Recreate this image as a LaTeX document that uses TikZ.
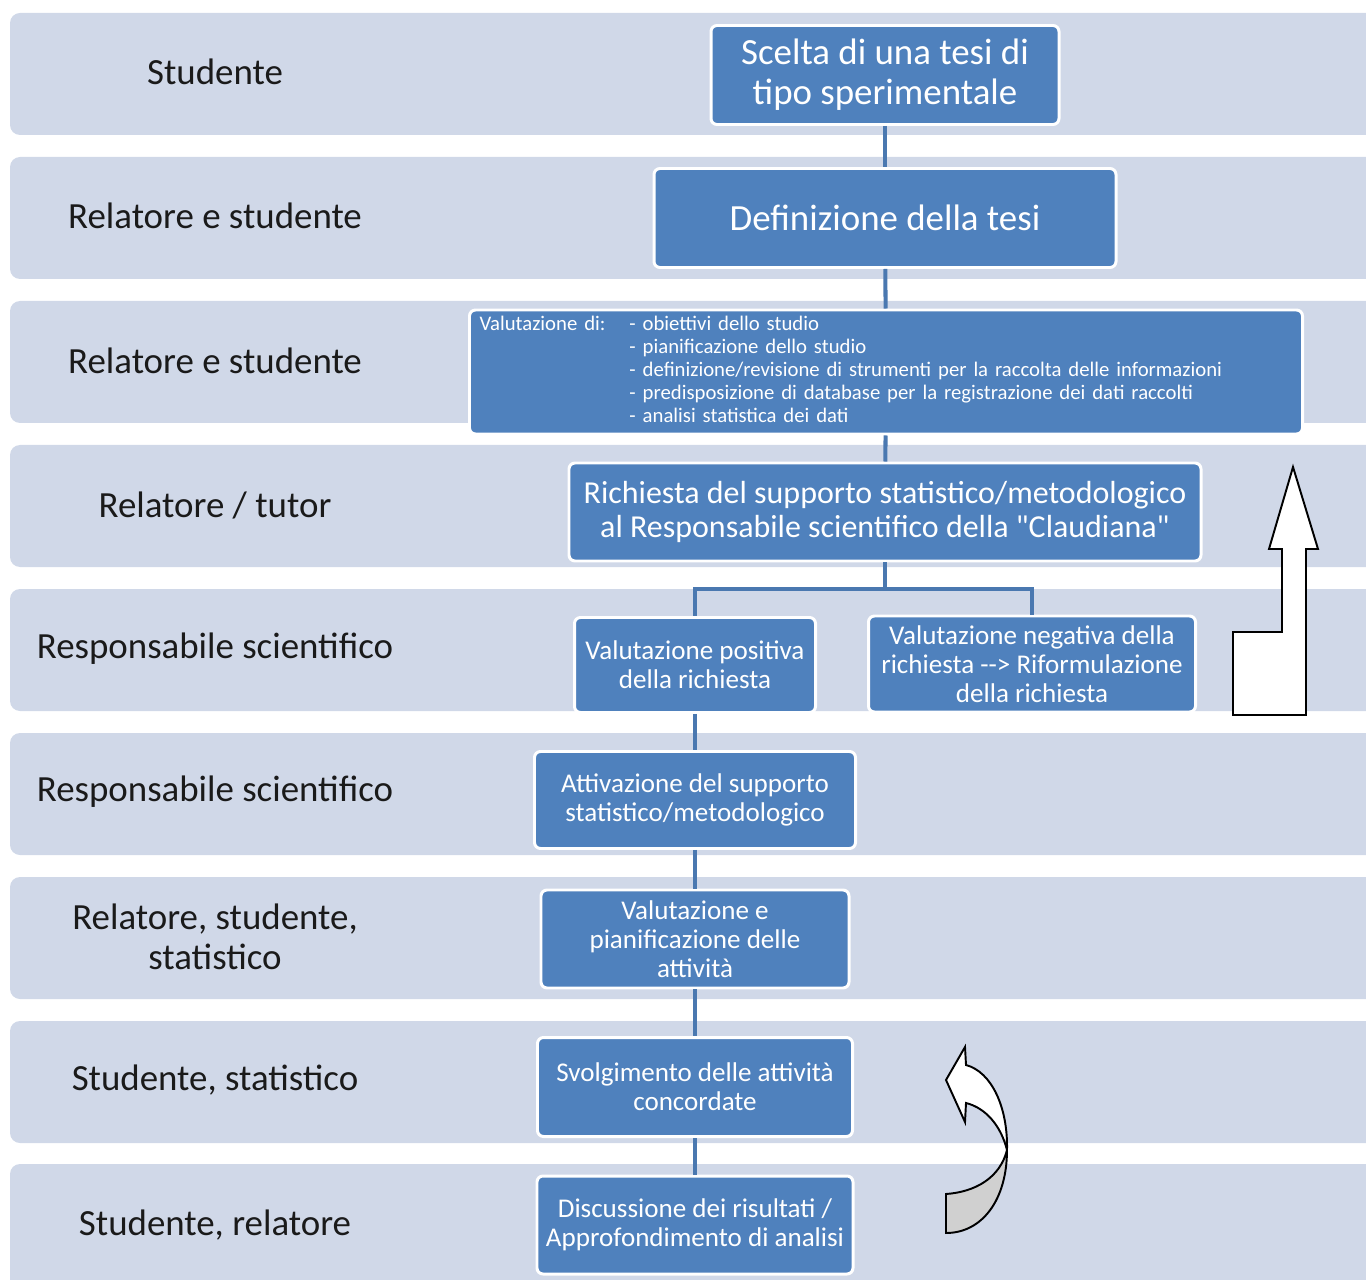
\documentclass[tikz,border=0pt]{standalone}
\usepackage{fontspec}
\setmainfont[Ligatures=TeXOff]{Carlito}
\usepackage{tikz}
\definecolor{bandgray}{HTML}{D0D8E8}
\definecolor{boxblue}{HTML}{4F81BD}
\definecolor{lineblue}{HTML}{4A78B0}
\definecolor{rolegray}{HTML}{1A1A1A}
\definecolor{backgray}{HTML}{D0D0D0}
\newcommand{\px}{0.02cm}

\begin{document}
\begin{tikzpicture}[x=\px, y=-\px,
    band/.style={fill=bandgray, rounded corners=0.2cm},
    role/.style={text=rolegray, align=center, font=\fontsize{21}{22.7}\selectfont},
    box/.style={draw=white, line width=1.7pt, fill=boxblue, rounded corners=0.12cm, text=white, align=center, inner sep=2pt},
    big/.style={box, font=\fontsize{21}{22.7}\selectfont},
    mid/.style={box, font=\fontsize{18.2}{19.3}\selectfont},
    small/.style={box, font=\fontsize{15.4}{16.4}\selectfont},
    conn/.style={draw=lineblue, line width=2.3pt},
    blockarrow/.style={draw=black, line width=1.1pt, fill=white, line join=miter}]
    \useasboundingbox (0,0) rectangle (1366,1280);
    \clip (0,0) rectangle (1366,1280);

    % Bands
    \fill[band] (10,13) rectangle (1400,135);
    \fill[band] (10,157) rectangle (1400,279);
    \fill[band] (10,301) rectangle (1400,423);
    \fill[band] (10,445) rectangle (1400,567);
    \fill[band] (10,589) rectangle (1400,711);
    \fill[band] (10,733) rectangle (1400,855);
    \fill[band] (10,877) rectangle (1400,999);
    \fill[band] (10,1021) rectangle (1400,1143);
    \fill[band] (10,1164) rectangle (1400,1300);

    % Roles
    \node[role] (role-1) at (215,72) {Studente};
    \node[role] (role-2) at (215,216) {Relatore e studente};
    \node[role] (role-3) at (215,361) {Relatore e studente};
    \node[role] (role-4) at (215,505) {Relatore / tutor};
    \node[role] (role-5) at (215,649) {Responsabile scientifico};
    \node[role] (role-6) at (215,792) {Responsabile scientifico};
    \node[role] (role-7) at (215,937) {Relatore, studente,\\statistico};
    \node[role] (role-8) at (215,1080) {Studente, statistico};
    \node[role] (role-9) at (215,1225) {Studente, relatore};

    % Steps
    \node[big, minimum width=348*\px, minimum height=99*\px] (step-1) at (885,75) {Scelta di una tesi di\\tipo sperimentale};
    \node[big, minimum width=462*\px, minimum height=99*\px] (step-2) at (885,218) {Definizione della tesi};
    \node[box, minimum width=833*\px, minimum height=124*\px, inner sep=0pt, text width=813*\px, align=left,
          font=\fontsize{11.8}{13}\selectfont] (step-3) at (886,372)
        {\begin{tabular}{@{}p{3cm}@{}l@{}}
          Valutazione di: & - obiettivi dello studio\\
           & - pianificazione dello studio\\
           & - definizione/revisione di strumenti per la raccolta delle informazioni\\
           & - predisposizione di database per la registrazione dei dati raccolti\\
           & - analisi statistica dei dati
        \end{tabular}};
    \node[mid, minimum width=632*\px, minimum height=98*\px] (step-4) at (885,512)
        {Richiesta del supporto statistico/metodologico\\al Responsabile scientifico della "Claudiana"};
    \node[small, minimum width=241*\px, minimum height=95*\px] (step-5a) at (695,665)
        {Valutazione positiva\\della richiesta};
    \node[small, minimum width=327*\px, minimum height=96*\px] (step-5b) at (1032,664)
        {Valutazione negativa della\\richiesta --> Riformulazione\\della richiesta};
    \node[small, minimum width=321*\px, minimum height=97*\px] (step-6) at (695,800)
        {Attivazione del supporto\\statistico/metodologico};
    \node[small, minimum width=308*\px, minimum height=98*\px] (step-7) at (695,939)
        {Valutazione e\\pianificazione delle\\attività};
    \node[small, minimum width=315*\px, minimum height=99*\px] (step-8) at (695,1087)
        {Svolgimento delle attività\\concordate};
    \node[small, minimum width=316*\px, minimum height=98*\px] (step-9) at (695,1225)
        {Discussione dei risultati /\\Approfondimento di analisi};

    % Connectors
    \coordinate (split) at (885,589);
    \draw[conn] (step-1) -- (step-2);
    \draw[conn] (step-2) -- (step-3);
    \draw[conn] (step-3) -- (step-4);
    \draw[conn] (step-4) -- (split);
    \draw[conn] (split) -| (step-5a);
    \draw[conn] (split) -| (step-5b);
    \draw[conn] (step-5a) -- (step-6);
    \draw[conn] (step-6) -- (step-7);
    \draw[conn] (step-7) -- (step-8);
    \draw[conn] (step-8) -- (step-9);

    % Loop-back arrows
    \draw[blockarrow] (1293,467) -- (1318,549) -- (1306,549) -- (1306,715) -- (1233,715)
        -- (1233,632) -- (1282,632) -- (1282,549) -- (1269,549) -- cycle;
    \draw[blockarrow, fill=backgray] (1007,1150) .. controls (1007,1200) and (982,1233) .. (946,1233)
        -- (946,1194) .. controls (975,1192) and (1000,1178) .. (1007,1150);
    \draw[blockarrow] (966,1065) .. controls (992,1072) and (1008,1108) .. (1007,1150)
        .. controls (1001,1126) and (986,1108) .. (966,1103) -- (965,1122) -- (946,1080)
        -- (965,1047) -- cycle;

\end{tikzpicture}
\end{document}
